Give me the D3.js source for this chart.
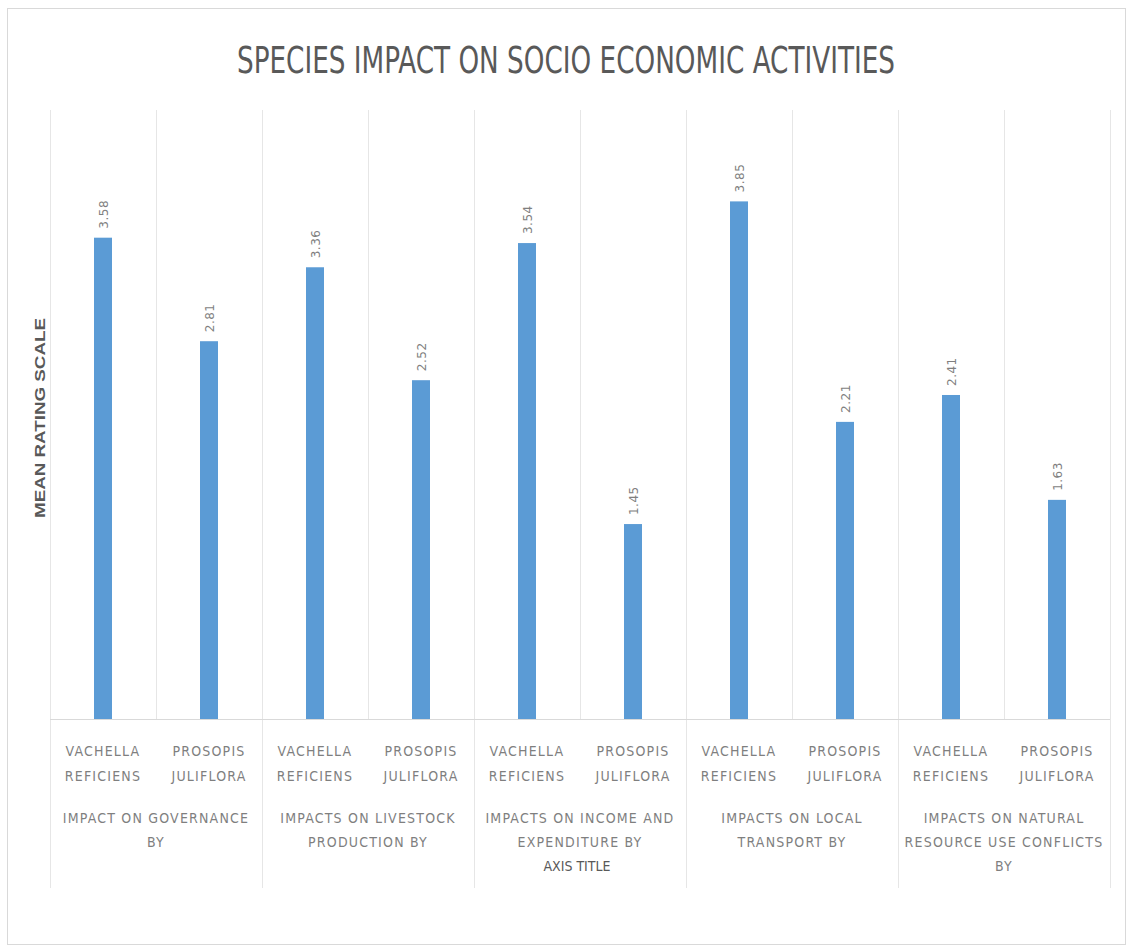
<!DOCTYPE html>
<html>
<head>
<meta charset="utf-8">
<script src="https://cdn.jsdelivr.net/npm/d3@7"></script>
<style>
  html, body { margin: 0; padding: 0; background: #fff; }
  svg { display: block; }
  .narrow { font-family: "Liberation Sans Narrow", "DejaVu Sans Condensed", "Liberation Sans", sans-serif; }
</style>
</head>
<body>
<script>
// Species and impact groups
const species = [
  ["VACHELLA", "REFICIENS"],
  ["PROSOPIS", "JULIFLORA"]
];
const groups = [
  ["IMPACT ON GOVERNANCE", "BY"],
  ["IMPACTS ON LIVESTOCK", "PRODUCTION BY"],
  ["IMPACTS ON INCOME AND", "EXPENDITURE BY", "AXIS TITLE"],
  ["IMPACTS ON LOCAL", "TRANSPORT  BY"],
  ["IMPACTS ON NATURAL", "RESOURCE USE CONFLICTS", "BY"]
];
// Mean rating per group: [Vachella reficiens, Prosopis juliflora]
const vachellaValues = [3.58, 3.36, 3.54, 3.85, 2.41];
const prosopisValues = [2.81, 2.52, 1.45, 2.21, 1.63];

const chartTitle = "SPECIES IMPACT ON SOCIO ECONOMIC ACTIVITIES";
const yTitle = "MEAN RATING SCALE";

const W = 1128, H = 949;
const plotTop = 114, plotBottom = 719, gridTop = 110;

const rows = [];
groups.forEach((g, gi) => {
  rows.push({ key: gi + "-0", group: gi, sp: 0, value: vachellaValues[gi] });
  rows.push({ key: gi + "-1", group: gi, sp: 1, value: prosopisValues[gi] });
});

const svg = d3.select("body").append("svg")
  .attr("width", W).attr("height", H);

// Chart frame
svg.append("rect")
  .attr("x", 7.5).attr("y", 8.5).attr("width", 1118).attr("height", 936)
  .attr("fill", "#fff").attr("stroke", "#d9d9d9").attr("stroke-width", 1);

const x = d3.scaleBand()
  .domain(rows.map(d => d.key))
  .range([50, 1110])
  .paddingInner(0).paddingOuter(0);

const y = d3.scaleLinear().domain([0, 4.5]).range([plotBottom, plotTop]);

const grid = "#e6e6e6";

// Vertical category separators within the plot
const edges = rows.map(d => x(d.key)).concat([x.range()[1]]);
svg.append("g").selectAll("line").data(edges).join("line")
  .attr("x1", d => d + 0.5).attr("x2", d => d + 0.5)
  .attr("y1", gridTop).attr("y2", plotBottom)
  .attr("stroke", grid).attr("stroke-width", 1);

// Group separators extend down through the labels
const groupEdges = edges.filter((d, i) => i % 2 === 0);
svg.append("g").selectAll("line").data(groupEdges).join("line")
  .attr("x1", d => d + 0.5).attr("x2", d => d + 0.5)
  .attr("y1", plotBottom).attr("y2", 888)
  .attr("stroke", grid).attr("stroke-width", 1);

// Baseline
svg.append("line")
  .attr("x1", 50).attr("x2", 1110)
  .attr("y1", plotBottom + 0.5).attr("y2", plotBottom + 0.5)
  .attr("stroke", "#d9d9d9");

// Bars
const barW = 18;
svg.append("g").selectAll("rect").data(rows).join("rect")
  .attr("x", d => x(d.key) + x.bandwidth() / 2 - barW / 2)
  .attr("y", d => y(d.value))
  .attr("width", barW)
  .attr("height", d => y(0) - y(d.value))
  .attr("fill", "#5b9bd5");

// Value labels, rotated
svg.append("g").selectAll("text").data(rows).join("text")
  .attr("transform", d => `translate(${x(d.key) + x.bandwidth() / 2 + 4.5},${y(d.value) - 9}) rotate(-90)`)
  .attr("text-anchor", "start")
  .attr("font-family", "'DejaVu Sans', sans-serif")
  .attr("font-size", 12)
  .attr("letter-spacing", 0.5)
  .attr("fill", "#7f7f7f")
  .text(d => d.value.toFixed(2));

// Species labels
const spG = svg.append("g").attr("class", "narrow")
  .attr("fill", "#7f7f7f").attr("font-size", 14).attr("text-anchor", "middle")
  .attr("letter-spacing", 1.2);
rows.forEach(d => {
  species[d.sp].forEach((line, li) => {
    spG.append("text")
      .attr("x", x(d.key) + x.bandwidth() / 2)
      .attr("y", 756 + li * 25)
      .text(line);
  });
});

// Group labels
const gG = svg.append("g").attr("class", "narrow")
  .attr("font-size", 14).attr("text-anchor", "middle");
groups.forEach((g, gi) => {
  const cx = (x(gi + "-0") + x(gi + "-1") + x.bandwidth()) / 2;
  g.forEach((line, li) => {
    const isAxis = line === "AXIS TITLE";
    gG.append("text")
      .attr("x", cx + (isAxis ? -3 : 0))
      .attr("y", 823 + li * 24)
      .attr("fill", isAxis ? "#595959" : "#7f7f7f")
      .attr("letter-spacing", isAxis ? 0 : 1.2)
      .text(line);
  });
});

// Y axis title
svg.append("text")
  .attr("transform", `translate(45,418) rotate(-90)`)
  .attr("text-anchor", "middle")
  .attr("font-family", "'Liberation Sans', Arial, sans-serif")
  .attr("font-weight", "bold")
  .attr("font-size", 14)
  .attr("fill", "#595959")
  .attr("textLength", 200)
  .attr("lengthAdjust", "spacingAndGlyphs")
  .text(yTitle);

// Chart title
svg.append("text")
  .attr("class", "narrow")
  .attr("x", 566).attr("y", 73)
  .attr("text-anchor", "middle")
  .attr("font-size", 37)
  .attr("fill", "#595959")
  .attr("textLength", 658)
  .attr("lengthAdjust", "spacingAndGlyphs")
  .text(chartTitle);
</script>
</body>
</html>
